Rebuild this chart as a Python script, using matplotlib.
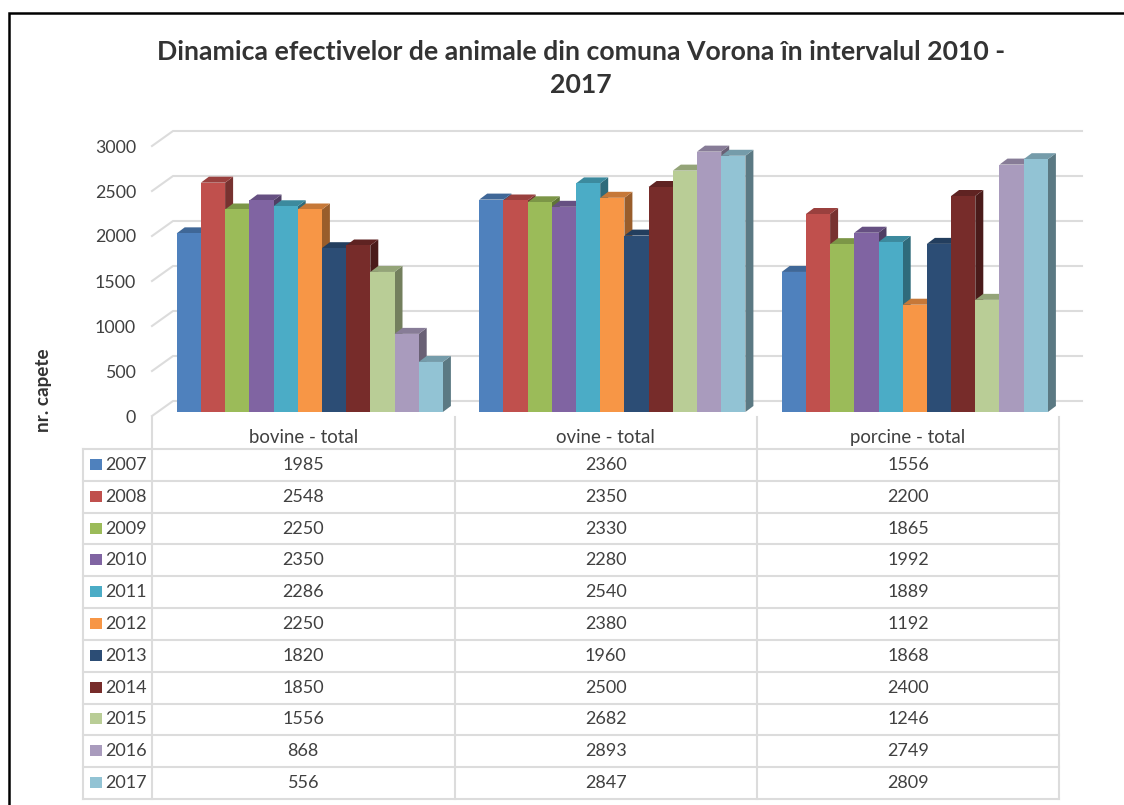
import matplotlib
matplotlib.use('Agg')
from matplotlib import pyplot as plt
from matplotlib.colors import to_rgb
from matplotlib.patches import Polygon, Rectangle

plt.rcParams['font.family'] = ['Lato', 'DejaVu Sans']

title = 'Dinamica efectivelor de animale din comuna Vorona în intervalul 2010 -\n2017'
categories = ['bovine - total', 'ovine - total', 'porcine - total']
years = ['2007', '2008', '2009', '2010', '2011', '2012', '2013', '2014', '2015', '2016', '2017']
colors = ['#4F81BD', '#C0504D', '#9BBB59', '#8064A2', '#4BACC6', '#F79646',
          '#2C4D75', '#772C2A', '#B9CD96', '#A99BBD', '#92C3D4']
bovine = [1985, 2548, 2250, 2350, 2286, 2250, 1820, 1850, 1556, 868, 556]
ovine = [2360, 2350, 2330, 2280, 2540, 2380, 1960, 2500, 2682, 2893, 2847]
porcine = [1556, 2200, 1865, 1992, 1889, 1192, 1868, 2400, 1246, 2749, 2809]
series = [bovine, ovine, porcine]
yticks = [0, 500, 1000, 1500, 2000, 2500, 3000]

W, H = 1124, 805
GRID = '#dcdcdc'
TXT = '#404040'
fig = plt.figure(figsize=(W / 100, H / 100), dpi=100)

# page axes in pixels, for frame, title and table rules
page = fig.add_axes([0, 0, 1, 1])
page.set_xlim(0, W)
page.set_ylim(H, 0)
page.axis('off')
page.plot([9, 9, W], [H, 13, 13], color='black', lw=1.8, solid_joinstyle='miter')
page.text(581, 52, title.split('\n')[0], ha='center', va='center', fontsize=19.2,
          fontweight='bold', color='#333333')
page.text(581, 85, title.split('\n')[1], ha='center', va='center', fontsize=19.2,
          fontweight='bold', color='#333333')
page.text(43, 390, 'nr. capete', rotation=90, ha='center', va='center', fontsize=13.6,
          fontweight='bold', color='#333333')

# table
col_x = [152, 454.5, 757, 1059]
head_y = 449
row_h = (799 - head_y) / len(years)
for x in col_x:
    page.plot([x, x], [417, 799], color=GRID, lw=1.5, zorder=1)
page.plot([83, 83], [head_y, 799], color=GRID, lw=1.5, zorder=1)
for i in range(len(years) + 1):
    page.plot([83, 1059], [head_y + i * row_h] * 2, color=GRID, lw=1.5, zorder=1)
for j, cat in enumerate(categories):
    cx = (col_x[j] + col_x[j + 1]) / 2
    page.text(cx, 437.5, cat, ha='center', va='center', fontsize=13.4, color=TXT)
    for i, v in enumerate(series[j]):
        page.text(cx, head_y + (i + 0.5) * row_h, str(v), ha='center', va='center',
                  fontsize=13, color=TXT)
for i, yr in enumerate(years):
    yc = head_y + (i + 0.5) * row_h
    page.add_patch(Rectangle((89.5, yc - 6), 12, 11, facecolor=colors[i], edgecolor='none'))
    page.text(105.5, yc, yr, ha='left', va='center', fontsize=13, color=TXT)

# chart axes: x is category number, y is head count, bar front plane on y=0
PX = 302.5
PY = 0.09
ax = fig.add_axes([152 / W, (H - 412) / H, 907.5 / W, 270 / H])
ax.set_xlim(0, 3)
ax.set_ylim(0, 3000)
ax.axis('off')
ax.patch.set_alpha(0)


def dx(p):
    return p / PX


def dy(p):
    return p / PY


for v in yticks:
    ax.plot([0, dx(21), dx(930)], [v - dy(4), v + dy(11), v + dy(11)], color=GRID, lw=1.5,
            clip_on=False, zorder=1, solid_joinstyle='round')
    ax.text(dx(-16), v - dy(5.5), str(v), ha='right', va='center', fontsize=12.8, color=TXT,
            clip_on=False)

bar_w = 24.2 / PX
depth_x = dx(8)
depth_y = dy(6)
start = dx(24.7)
for j, vals in enumerate(series):
    for i, v in enumerate(vals):
        c = to_rgb(colors[i])
        x0 = j + start + i * bar_w
        x1 = x0 + bar_w
        side = tuple(k * 0.62 for k in c)
        top = tuple(k * 0.8 for k in c)
        z = 3 + j * 20 + i
        ax.add_patch(Polygon([(x1, 0), (x1 + depth_x, depth_y), (x1 + depth_x, v + depth_y), (x1, v)],
                             facecolor=side, edgecolor='none', clip_on=False, zorder=z))
        ax.add_patch(Polygon([(x0, v), (x0 + depth_x, v + depth_y), (x1 + depth_x, v + depth_y), (x1, v)],
                             facecolor=top, edgecolor='none', clip_on=False, zorder=z))
        ax.bar(x0, v, width=bar_w, align='edge', color=colors[i], clip_on=False, zorder=z + 0.5)

fig.savefig('out.png', dpi=100)
